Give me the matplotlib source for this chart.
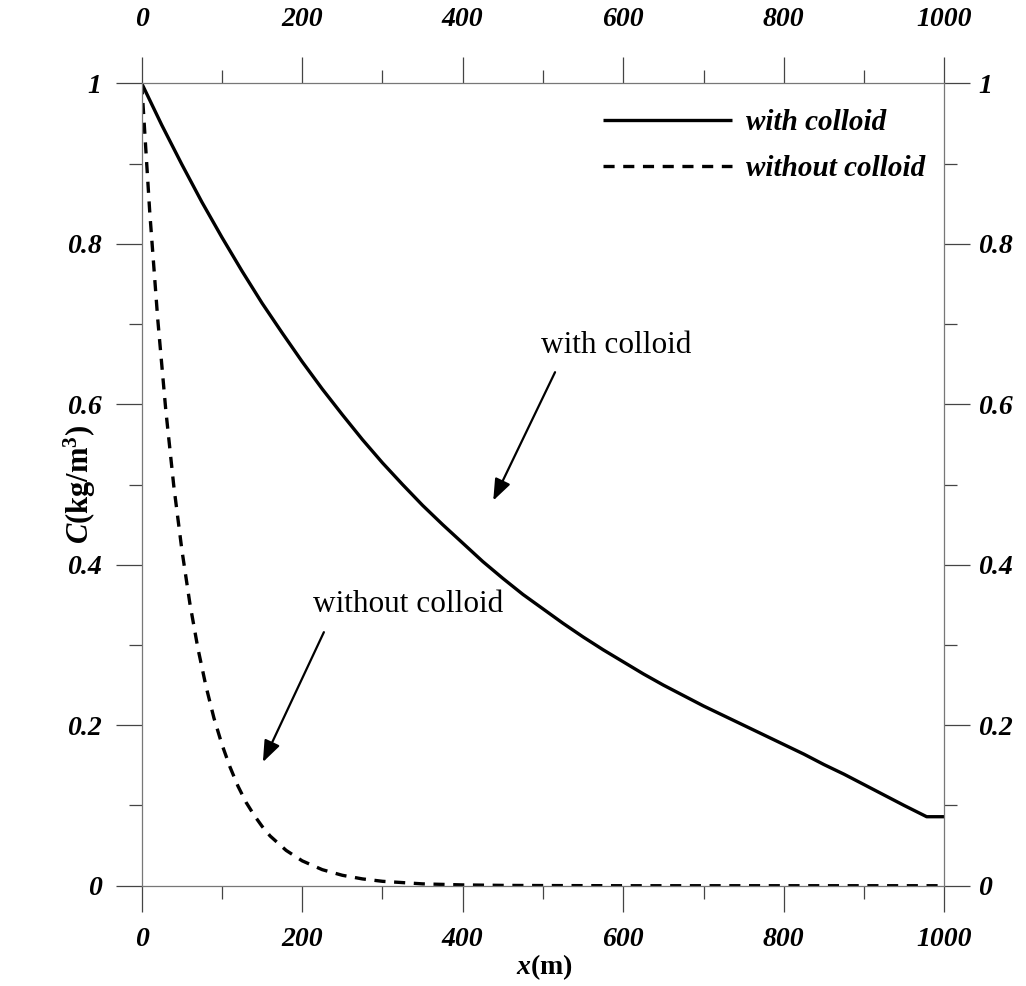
import matplotlib
matplotlib.use("Agg")
import matplotlib.pyplot as plt
from matplotlib.ticker import MultipleLocator, FixedLocator, FuncFormatter

# ---- data ----
x_with = [0, 25, 50, 75, 100, 125, 150, 175, 200, 225, 250, 275, 300, 325, 350, 375,
          400, 425, 450, 475, 500, 525, 550, 575, 600, 625, 650, 675, 700, 725, 750,
          775, 800, 825, 850, 875, 900, 925, 950, 978, 1000]
c_with = [1.000, 0.948, 0.899, 0.852, 0.808, 0.766, 0.726, 0.689, 0.653, 0.619, 0.587,
          0.556, 0.527, 0.500, 0.474, 0.450, 0.427, 0.404, 0.383, 0.363, 0.345, 0.327,
          0.310, 0.294, 0.279, 0.264, 0.250, 0.237, 0.224, 0.212, 0.200, 0.188, 0.176,
          0.164, 0.151, 0.139, 0.126, 0.113, 0.100, 0.086, 0.086]

x_without = [0, 10, 20, 30, 40, 50, 60, 70, 80, 90, 100, 110, 120, 130, 140, 150, 160,
             180, 200, 225, 250, 275, 300, 350, 400, 450, 500, 600, 700, 800, 900, 1000]
c_without = [1.000, 0.840, 0.706, 0.593, 0.498, 0.419, 0.352, 0.296, 0.249, 0.209, 0.176,
             0.148, 0.124, 0.104, 0.088, 0.074, 0.062, 0.044, 0.031, 0.020, 0.013, 0.0085,
             0.0055, 0.0023, 0.001, 0.0004, 0.0002, 0.0, 0.0, 0.0, 0.0, 0.0]

x_ticks = [0, 200, 400, 600, 800, 1000]
y_ticks = [0, 0.2, 0.4, 0.6, 0.8, 1.0]
x_tick_labels = ["0", "200", "400", "600", "800", "1000"]
y_tick_labels = ["0", "0.2", "0.4", "0.6", "0.8", "1"]

series_labels = ["with colloid", "without colloid"]
annot_with = {"text": "with colloid", "text_xy": (591, 0.673), "start": (515, 0.640), "tip": (438, 0.480)}
annot_without = {"text": "without colloid", "text_xy": (332, 0.351), "start": (227, 0.316), "tip": (151, 0.154)}

# ---- style ----
plt.rcParams['font.family'] = ['Liberation Serif', 'DejaVu Serif']
plt.rcParams['mathtext.fontset'] = 'custom'
plt.rcParams['mathtext.rm'] = 'Liberation Serif:bold'
plt.rcParams['mathtext.it'] = 'Liberation Serif:bold:italic'
plt.rcParams['mathtext.bf'] = 'Liberation Serif:bold'
plt.rcParams['lines.scale_dashes'] = False

fig = plt.figure(figsize=(10.26, 9.86), dpi=100)
ax = fig.add_axes([0.1381, 0.1017, 0.7823, 0.8138])

ax.plot(x_with, c_with, color='black', lw=2.4, solid_joinstyle='round',
        solid_capstyle='butt', label=series_labels[0])
ax.plot(x_without, c_without, color='black', lw=2.4, linestyle=(0, (8.0, 6.2)),
        label=series_labels[1])

ax.set_xlim(0, 1000)
ax.set_ylim(0, 1)

spine_col = '#777777'
for s in ax.spines.values():
    s.set_color(spine_col)
    s.set_linewidth(0.9)

tick_font = dict(family='Liberation Serif', weight='bold', style='italic', size=20)

ax.xaxis.set_major_locator(FixedLocator(x_ticks))
ax.xaxis.set_minor_locator(MultipleLocator(100))
ax.yaxis.set_major_locator(FixedLocator(y_ticks))
ax.yaxis.set_minor_locator(MultipleLocator(0.1))
ax.set_xticks(x_ticks, x_tick_labels, **tick_font)
ax.set_yticks(y_ticks, y_tick_labels, **tick_font)

ax.tick_params(which='both', direction='out', top=True, right=True,
               labeltop=False, labelright=False, color='#444444', width=0.9)
ax.tick_params(which='major', length=19)
ax.tick_params(which='minor', length=9.5)
ax.tick_params(axis='x', which='major', pad=11)
ax.tick_params(axis='y', which='major', pad=10)

# top axis labels with their own padding
sec = ax.secondary_xaxis('top')
sec.set_xticks(x_ticks, x_tick_labels, **tick_font)
sec.tick_params(which='major', length=0, pad=37)
sec.tick_params(which='minor', length=0)
sec.spines['top'].set_visible(False)

# right axis labels with their own padding
secr = ax.secondary_yaxis('right')
secr.set_yticks(y_ticks, y_tick_labels, **tick_font)
secr.tick_params(which='major', length=0, pad=24.5)
secr.tick_params(which='minor', length=0)
secr.spines['right'].set_visible(False)

ax.set_xlabel(r'$\mathit{x}\mathrm{(m)}$', fontsize=20)
ax.xaxis.set_label_coords(0.502, -0.083)
ax.set_ylabel(r'$\mathit{C}\mathrm{(kg/m^3)}$', fontsize=22)
ax.yaxis.set_label_coords(-0.054, 0.5)

leg = ax.legend(loc='upper right', bbox_to_anchor=(0.976, 0.9675), frameon=False,
                borderpad=0, borderaxespad=0, handlelength=4.4, handletextpad=0.48,
                labelspacing=0.65,
                prop=dict(family='Liberation Serif', weight='bold', style='italic', size=21))

for a in (annot_with, annot_without):
    ax.text(a["text_xy"][0], a["text_xy"][1], a["text"], fontsize=22.5,
            family='Liberation Serif', ha='center', va='center')
    ax.annotate('', xy=a["tip"], xytext=a["start"],
                arrowprops=dict(arrowstyle='-|>,head_length=0.65,head_width=0.25',
                                mutation_scale=20, color='black', lw=1.6,
                                shrinkA=0, shrinkB=0))

fig.savefig('out.png', dpi=100)
